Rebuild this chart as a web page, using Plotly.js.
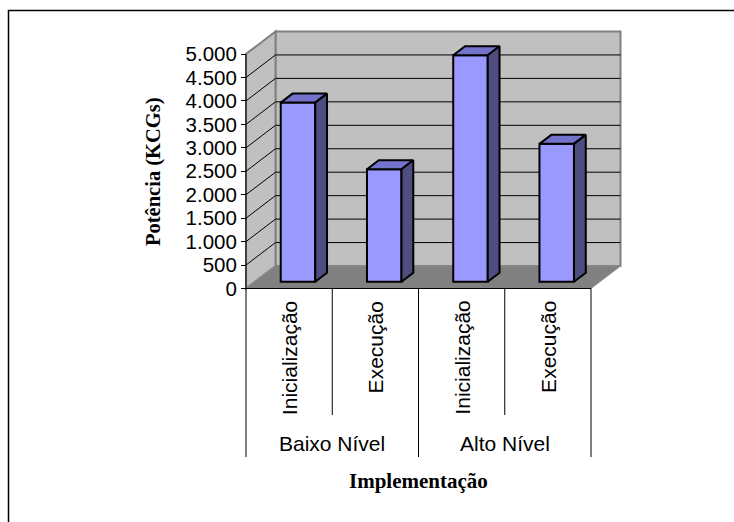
<!DOCTYPE html>
<html>
<head>
<meta charset="utf-8">
<script src="https://cdn.plot.ly/plotly-3.0.1.min.js"></script>
<style>
  html, body { margin: 0; padding: 0; background: #ffffff; }
  #chart { width: 734px; height: 522px; }
</style>
</head>
<body>
<div id="chart"></div>
<script>
// Potência por implementação (KCGs)
const categories = ['Inicialização', 'Execução', 'Inicialização', 'Execução'];
const groups = ['Baixo Nível', 'Alto Nível'];
const potencia = [3820, 2400, 4830, 2940];
const yTicks = [0, 500, 1000, 1500, 2000, 2500, 3000, 3500, 4000, 4500, 5000];
const yTitle = 'Potência (KCGs)';
const xTitle = 'Implementação';

// Page geometry (pixels) for the pseudo-3D frame
const W = 734, H = 522;
const AXIS_LEFT_PX = 246;      // front vertical axis
const CAT_PX = 86.25;          // width of one category slot
const ZERO_PX = 288.5;         // pixel row of value 0 on the front plane
const PX_PER_UNIT = 0.0469;    // pixels per KCG
const DEPTH_X_PX = 29.5, DEPTH_Y_PX = 22.5;  // depth of the box
const BAR_FRONT = 0.3, BAR_BACK = 0.7;       // bar position inside the depth
const BAR_WIDTH = 0.4;

const xData = px => (px - AXIS_LEFT_PX) / CAT_PX - 0.5;
const yData = px => (ZERO_PX - px) / PX_PER_UNIT;
const DX = DEPTH_X_PX / CAT_PX;
const DY = DEPTH_Y_PX / PX_PER_UNIT;

const n = categories.length;
const xL = -0.5, xR = n - 0.5;
const yMax = yTicks[yTicks.length - 1];

const pathOf = pts => 'M' + pts.map(p => p[0] + ',' + p[1]).join(' L') + ' Z';

const shapes = [];
// back wall
shapes.push({type: 'rect', xref: 'x', yref: 'y', layer: 'below',
  x0: xL + DX, x1: xR + DX, y0: DY, y1: yMax + DY,
  fillcolor: '#C0C0C0', line: {color: '#808080', width: 2}});
// side wall
shapes.push({type: 'path', xref: 'x', yref: 'y', layer: 'below',
  path: pathOf([[xL, 0], [xL, yMax], [xL + DX, yMax + DY], [xL + DX, DY]]),
  fillcolor: '#C0C0C0', line: {color: '#808080', width: 2}});
// floor
shapes.push({type: 'path', xref: 'x', yref: 'y', layer: 'below',
  path: pathOf([[xL, 0], [xR, 0], [xR + DX, DY], [xL + DX, DY]]),
  fillcolor: '#808080', line: {color: '#8C8C8C', width: 1}});
// gridlines on both walls
yTicks.slice(1, -1).forEach(t => {
  shapes.push({type: 'line', xref: 'x', yref: 'y', layer: 'below',
    x0: xL + DX, x1: xR + DX, y0: t + DY, y1: t + DY,
    line: {color: '#000000', width: 1}});
  shapes.push({type: 'line', xref: 'x', yref: 'y', layer: 'below',
    x0: xL, x1: xL + DX, y0: t, y1: t + DY,
    line: {color: '#000000', width: 1}});
});
// front axes
shapes.push({type: 'line', xref: 'x', yref: 'y',
  x0: xL, x1: xR, y0: 0, y1: 0, line: {color: '#000000', width: 1}});
shapes.push({type: 'line', xref: 'x', yref: 'y',
  x0: xL, x1: xL, y0: yMax, y1: 0, line: {color: '#000000', width: 1}});
// category / group separators below the axis
const innerBottom = yData(415), outerBottom = yData(457);
for (let i = 0; i <= n; i++) {
  const outer = (i % 2 === 0);
  shapes.push({type: 'line', xref: 'x', yref: 'y',
    x0: i - 0.5, x1: i - 0.5, y0: 0, y1: outer ? outerBottom : innerBottom,
    line: {color: '#000000', width: 1}});
}
// outer chart border
shapes.push({type: 'rect', xref: 'paper', yref: 'paper',
  x0: 8.5 / W, y0: -0.1, x1: 1.1, y1: 1 - 10.5 / H,
  line: {color: '#000000', width: 1.5}, fillcolor: 'rgba(0,0,0,0)'});

// bars: front faces
const barX = categories.map((c, i) => i + BAR_FRONT * DX);
const traces = [{
  type: 'bar', x: barX, y: potencia, base: potencia.map(() => BAR_FRONT * DY),
  width: BAR_WIDTH, marker: {color: '#9999FF', line: {color: '#000000', width: 2}},
  hoverinfo: 'skip', showlegend: false
}];
// bars: top and side faces
const bdx = (BAR_BACK - BAR_FRONT) * DX, bdy = (BAR_BACK - BAR_FRONT) * DY;
potencia.forEach((v, i) => {
  const x0 = barX[i] - BAR_WIDTH / 2, x1 = barX[i] + BAR_WIDTH / 2;
  const yb = BAR_FRONT * DY, yt = v + BAR_FRONT * DY;
  traces.push({type: 'scatter', mode: 'lines', fill: 'toself', fillcolor: '#7373CC',
    x: [x0, x1, x1 + bdx, x0 + bdx, x0], y: [yt, yt, yt + bdy, yt + bdy, yt],
    line: {color: '#000000', width: 2}, hoverinfo: 'skip', showlegend: false});
  traces.push({type: 'scatter', mode: 'lines', fill: 'toself', fillcolor: '#4D4D80',
    x: [x1, x1 + bdx, x1 + bdx, x1, x1], y: [yb, yb + bdy, yt + bdy, yt, yb],
    line: {color: '#000000', width: 2}, hoverinfo: 'skip', showlegend: false});
});

const sans = 'Liberation Sans, Arial, sans-serif';
const serif = 'Liberation Serif, Times New Roman, serif';
const annotations = [];
categories.forEach((c, i) => {
  annotations.push({xref: 'x', yref: 'y', x: i, y: yData(299), text: c,
    textangle: -90, xanchor: 'center', yanchor: 'top', showarrow: false,
    font: {family: sans, size: 21, color: '#000000'}});
});
groups.forEach((g, k) => {
  annotations.push({xref: 'x', yref: 'y', x: 2 * k + 0.5, y: yData(443), text: g,
    xanchor: 'center', yanchor: 'middle', showarrow: false,
    font: {family: sans, size: 21, color: '#000000'}});
});
annotations.push({xref: 'paper', yref: 'paper', x: 153 / W, y: 1 - 172 / H,
  text: '<b>' + yTitle + '</b>', textangle: -90, showarrow: false,
  xanchor: 'center', yanchor: 'middle', font: {family: serif, size: 20.5, color: '#000000'}});
annotations.push({xref: 'paper', yref: 'paper', x: 418.5 / W, y: 1 - 481 / H,
  text: '<b>' + xTitle + '</b>', showarrow: false,
  xanchor: 'center', yanchor: 'middle', font: {family: serif, size: 21, color: '#000000'}});

const layout = {
  width: W, height: H,
  margin: {l: 0, r: 0, t: 0, b: 0, pad: 0},
  paper_bgcolor: '#ffffff', plot_bgcolor: 'rgba(0,0,0,0)',
  separators: ',.',
  showlegend: false,
  xaxis: {range: [xData(0), xData(W)], visible: false, fixedrange: true},
  yaxis: {range: [yData(H), yData(0)], anchor: 'free', position: AXIS_LEFT_PX / W,
    tickvals: yTicks, tickformat: ',d', ticks: 'outside', ticklen: 5,
    tickcolor: '#000000', tickwidth: 1, showgrid: false, zeroline: false,
    showline: false, fixedrange: true,
    tickfont: {family: sans, size: 20.5, color: '#000000'}},
  shapes: shapes,
  annotations: annotations
};

Plotly.newPlot('chart', traces, layout, {staticPlot: true, displayModeBar: false});
</script>
</body>
</html>
